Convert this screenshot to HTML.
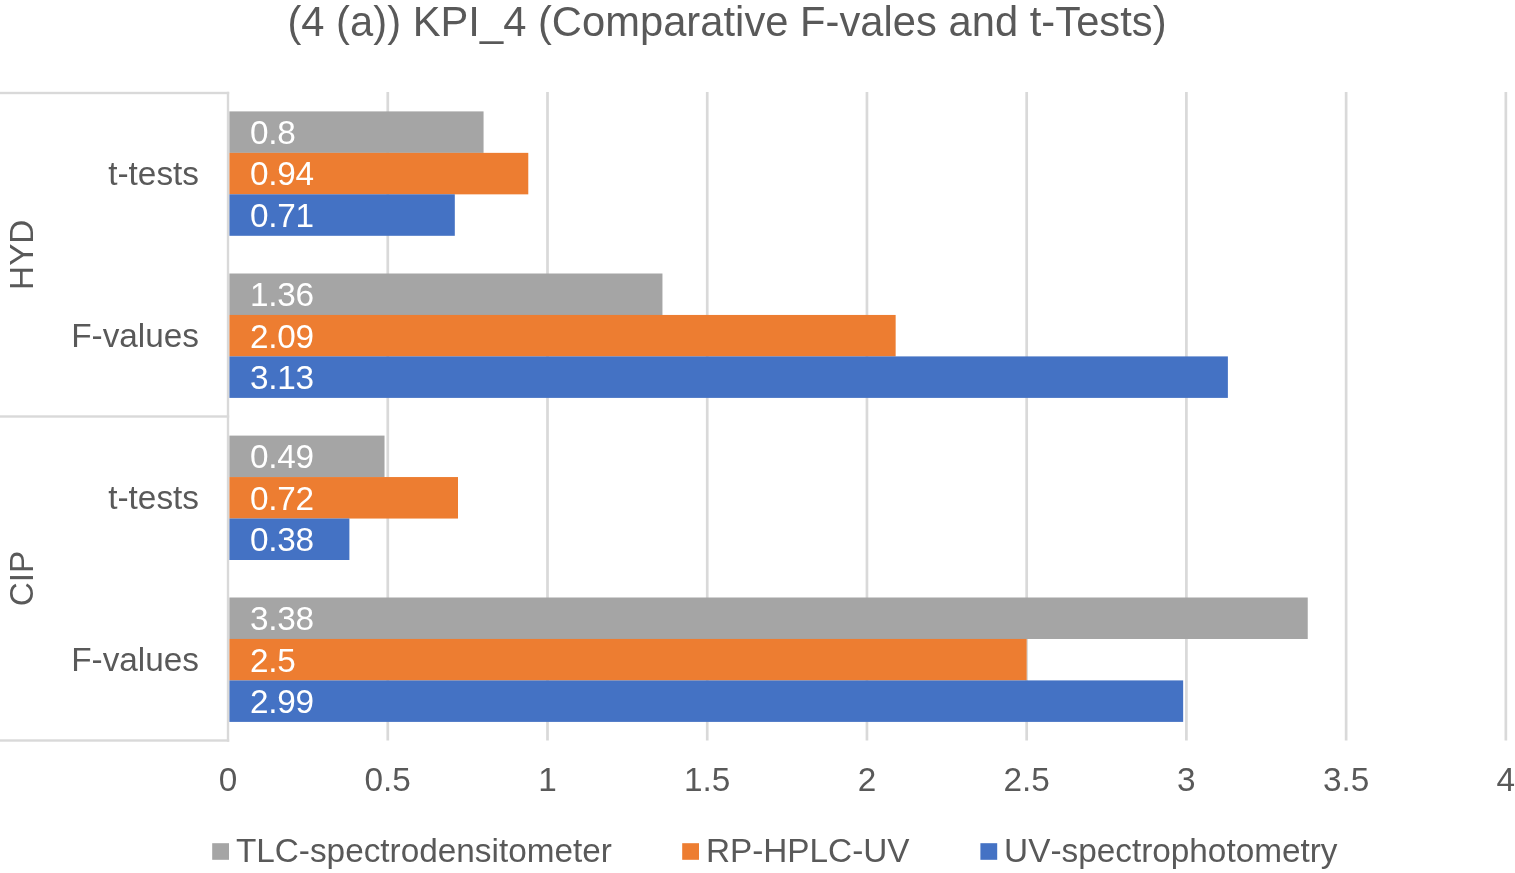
<!DOCTYPE html>
<html lang="en"><head><meta charset="utf-8"><title>KPI_4 chart</title>
<style>
html,body{margin:0;padding:0;background:#fff;}
body{width:1515px;height:873px;overflow:hidden;position:relative;}
svg{position:absolute;left:0;top:0;display:block;}
text{font-family:"Liberation Sans",Arial,Helvetica,sans-serif;font-kerning:none;}
</style></head><body>
<svg width="1515" height="873" viewBox="0 0 1515 873">
<rect x="0" y="0" width="1515" height="873" fill="#ffffff"/>
<rect x="386.43" y="92.00" width="2.7" height="648.50" fill="#d9d9d9"/>
<rect x="546.15" y="92.00" width="2.7" height="648.50" fill="#d9d9d9"/>
<rect x="705.88" y="92.00" width="2.7" height="648.50" fill="#d9d9d9"/>
<rect x="865.60" y="92.00" width="2.7" height="648.50" fill="#d9d9d9"/>
<rect x="1025.33" y="92.00" width="2.7" height="648.50" fill="#d9d9d9"/>
<rect x="1185.05" y="92.00" width="2.7" height="648.50" fill="#d9d9d9"/>
<rect x="1344.78" y="92.00" width="2.7" height="648.50" fill="#d9d9d9"/>
<rect x="1504.50" y="92.00" width="2.7" height="648.50" fill="#d9d9d9"/>
<rect x="229.30" y="111.40" width="254.26" height="41.50" fill="#a5a5a5"/>
<text x="250.0" y="144.03" font-size="33.33" fill="#ffffff" style="letter-spacing:-0.3px">0.8</text>
<rect x="229.30" y="152.85" width="298.98" height="41.50" fill="#ed7d31"/>
<text x="250.0" y="185.48" font-size="33.33" fill="#ffffff" style="letter-spacing:-0.3px">0.94</text>
<rect x="229.30" y="194.30" width="225.51" height="41.50" fill="#4472c4"/>
<text x="250.0" y="226.93" font-size="33.33" fill="#ffffff" style="letter-spacing:-0.3px">0.71</text>
<rect x="229.30" y="273.50" width="433.15" height="41.50" fill="#a5a5a5"/>
<text x="250.0" y="306.12" font-size="33.33" fill="#ffffff" style="letter-spacing:-0.3px">1.36</text>
<rect x="229.30" y="314.95" width="666.35" height="41.50" fill="#ed7d31"/>
<text x="250.0" y="347.57" font-size="33.33" fill="#ffffff" style="letter-spacing:-0.3px">2.09</text>
<rect x="229.30" y="356.40" width="998.58" height="41.50" fill="#4472c4"/>
<text x="250.0" y="389.02" font-size="33.33" fill="#ffffff" style="letter-spacing:-0.3px">3.13</text>
<rect x="229.30" y="435.60" width="155.23" height="41.50" fill="#a5a5a5"/>
<text x="250.0" y="468.23" font-size="33.33" fill="#ffffff" style="letter-spacing:-0.3px">0.49</text>
<rect x="229.30" y="477.05" width="228.70" height="41.50" fill="#ed7d31"/>
<text x="250.0" y="509.68" font-size="33.33" fill="#ffffff" style="letter-spacing:-0.3px">0.72</text>
<rect x="229.30" y="518.50" width="120.09" height="41.50" fill="#4472c4"/>
<text x="250.0" y="551.12" font-size="33.33" fill="#ffffff" style="letter-spacing:-0.3px">0.38</text>
<rect x="229.30" y="597.50" width="1078.44" height="41.50" fill="#a5a5a5"/>
<text x="250.0" y="630.12" font-size="33.33" fill="#ffffff" style="letter-spacing:-0.3px">3.38</text>
<rect x="229.30" y="638.95" width="797.33" height="41.50" fill="#ed7d31"/>
<text x="250.0" y="671.58" font-size="33.33" fill="#ffffff" style="letter-spacing:-0.3px">2.5</text>
<rect x="229.30" y="680.40" width="953.86" height="41.50" fill="#4472c4"/>
<text x="250.0" y="713.02" font-size="33.33" fill="#ffffff" style="letter-spacing:-0.3px">2.99</text>
<rect x="226.80" y="91.80" width="2.4" height="649.90" fill="#d9d9d9"/>
<rect x="0" y="91.80" width="229.20" height="2.4" fill="#d9d9d9"/>
<rect x="0" y="415.30" width="229.20" height="2.4" fill="#d9d9d9"/>
<rect x="0" y="739.30" width="229.20" height="2.4" fill="#d9d9d9"/>
<text x="199.0" y="184.98" font-size="33.33" fill="#595959" text-anchor="end">t-tests</text>
<text x="199.0" y="347.07" font-size="33.33" fill="#595959" text-anchor="end">F-values</text>
<text x="199.0" y="509.18" font-size="33.33" fill="#595959" text-anchor="end">t-tests</text>
<text x="199.0" y="671.07" font-size="33.33" fill="#595959" text-anchor="end">F-values</text>
<text transform="translate(33,254.75) rotate(-90)" font-size="33.33" fill="#595959" text-anchor="middle">HYD</text>
<text transform="translate(33,578.50) rotate(-90)" font-size="33.33" fill="#595959" text-anchor="middle">CIP</text>
<text x="228.00" y="791" font-size="33.33" fill="#595959" text-anchor="middle">0</text>
<text x="387.73" y="791" font-size="33.33" fill="#595959" text-anchor="middle">0.5</text>
<text x="547.45" y="791" font-size="33.33" fill="#595959" text-anchor="middle">1</text>
<text x="707.17" y="791" font-size="33.33" fill="#595959" text-anchor="middle">1.5</text>
<text x="866.90" y="791" font-size="33.33" fill="#595959" text-anchor="middle">2</text>
<text x="1026.62" y="791" font-size="33.33" fill="#595959" text-anchor="middle">2.5</text>
<text x="1186.35" y="791" font-size="33.33" fill="#595959" text-anchor="middle">3</text>
<text x="1346.08" y="791" font-size="33.33" fill="#595959" text-anchor="middle">3.5</text>
<text x="1505.80" y="791" font-size="33.33" fill="#595959" text-anchor="middle">4</text>
<text x="727" y="35.8" font-size="41.67" fill="#595959" text-anchor="middle" style="font-kerning:normal;letter-spacing:0.04px">(4 (a)) KPI_4 (Comparative F-vales and t-Tests)</text>
<rect x="212.2" y="843.2" width="16.8" height="16.6" fill="#a5a5a5"/>
<text x="235.9" y="862" font-size="33.33" fill="#595959">TLC-spectrodensitometer</text>
<rect x="682.2" y="843.2" width="16.8" height="16.6" fill="#ed7d31"/>
<text x="705.9" y="862" font-size="33.33" fill="#595959">RP-HPLC-UV</text>
<rect x="980.4" y="843.2" width="16.8" height="16.6" fill="#4472c4"/>
<text x="1004.1" y="862" font-size="33.33" fill="#595959">UV-spectrophotometry</text>
</svg>
</body></html>
